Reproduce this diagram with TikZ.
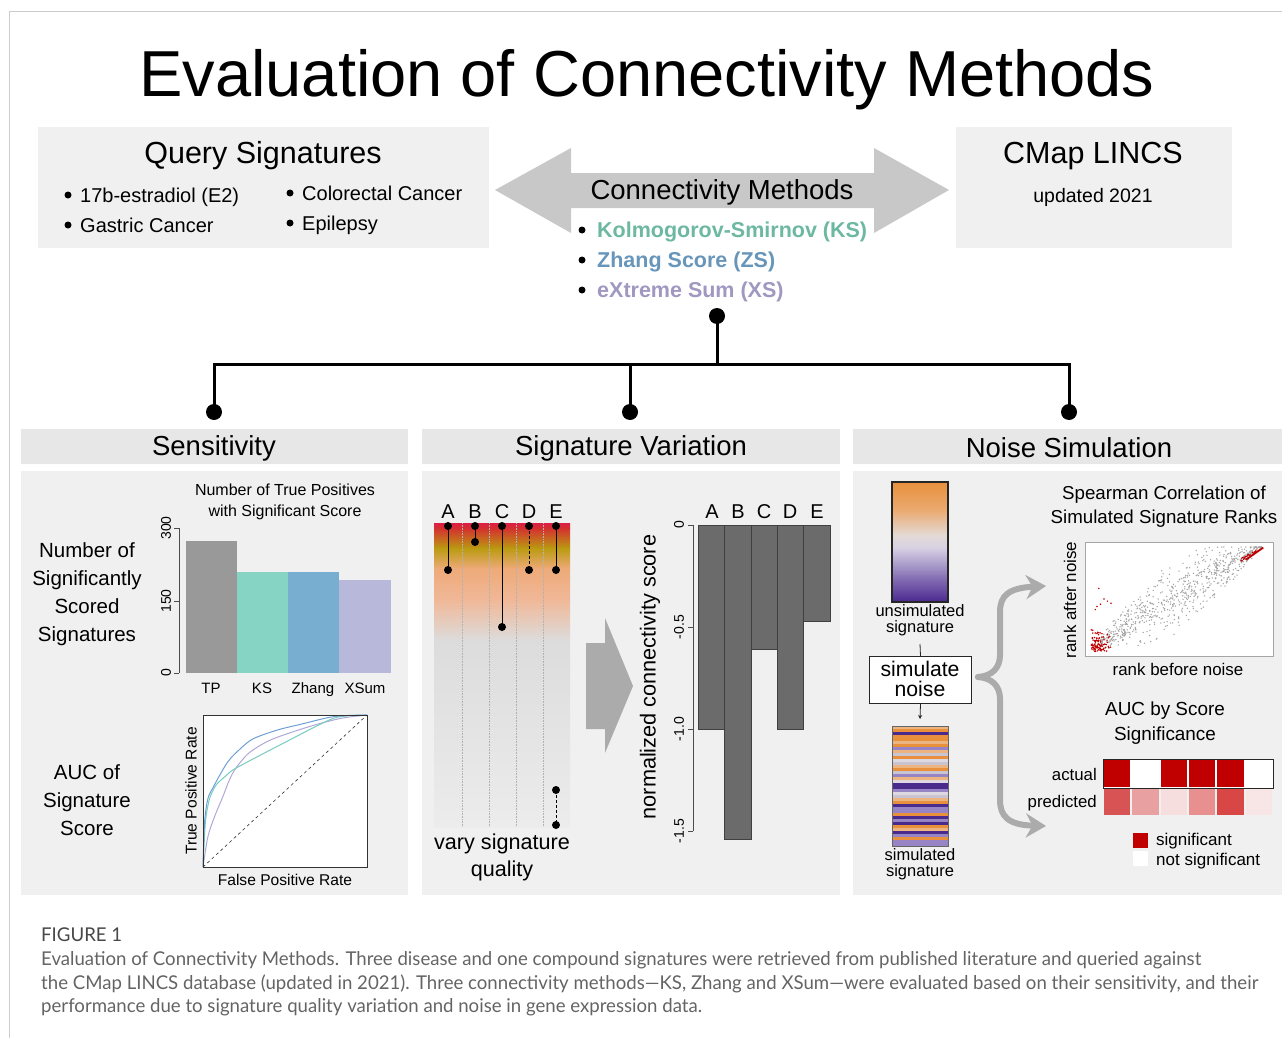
\documentclass[tikz,border=0pt]{standalone}
\usepackage{fontspec}
\setmainfont{Liberation Sans}
\newfontfamily\capfont[FakeStretch=0.98]{Lato}
\usetikzlibrary{arrows.meta}
\definecolor{panelbg}{RGB}{240,240,240}
\definecolor{headbg}{RGB}{231,231,231}
\definecolor{arrowgray}{RGB}{200,200,200}
\definecolor{ksc}{RGB}{108,184,160}
\definecolor{zsc}{RGB}{104,150,186}
\definecolor{xsc}{RGB}{160,152,192}
\definecolor{barTP}{RGB}{153,153,153}
\definecolor{barKS}{RGB}{134,212,196}
\definecolor{barZS}{RGB}{120,174,208}
\definecolor{barXS}{RGB}{184,184,218}
\definecolor{rocB}{RGB}{110,160,214}
\definecolor{rocK}{RGB}{120,204,188}
\definecolor{rocX}{RGB}{176,168,216}
\definecolor{sigred}{RGB}{192,0,0}
\definecolor{sO}{RGB}{232,144,60}
\definecolor{sT}{RGB}{236,180,128}
\definecolor{sP}{RGB}{74,42,140}
\definecolor{sL}{RGB}{150,132,196}
\definecolor{sG}{RGB}{200,196,210}
\definecolor{sW}{RGB}{222,216,226}
\definecolor{capgray}{RGB}{100,100,100}
\newcommand\fsz[2]{\fontsize{#1pt}{#2pt}\selectfont}
\begin{document}
\begin{tikzpicture}[x=1pt,y=-1pt,
  txt/.style={inner sep=0pt,anchor=base},
  panel/.style={fill=panelbg,draw=none},
  headbox/.style={fill=headbg,draw=none},
  tree/.style={line width=3pt,black},
  treedot/.style={circle,fill=black,inner sep=0pt,minimum size=16pt},
  bullet/.style={circle,fill=black,inner sep=0pt,minimum size=7pt},
  ax/.style={line width=0.6pt,black!70},
  ylab/.style={inner sep=0pt,rotate=90,anchor=center},
  lolli/.style={line width=1pt,black},
  ldot/.style={circle,fill=black,inner sep=0pt,minimum size=8pt},
  brace/.style={line width=6pt,black!33,-{Stealth[length=20pt,width=24pt]}},
]
\useasboundingbox (0,0) rectangle (1282,1038);
% frame
\draw[black!20,line width=1pt] (9,1038) -- (9,12) -- (1282,12);

% title
\node[txt,font=\fsz{65}{70}] (title) at (647,97) {Evaluation of Connectivity Methods};

% query signatures
\node[panel,minimum width=451pt,minimum height=121pt,anchor=north west,inner sep=0pt] (qbox) at (38,127) {};
\node[txt,font=\fsz{30.5}{34}] (qtitle) at (263,164) {Query Signatures};
\node[bullet] (qb1) at (68,195) {};
\node[txt,anchor=base west,font=\fsz{20}{24}] (q1) at (80,202) {17b-estradiol (E2)};
\node[bullet] (qb2) at (68,225) {};
\node[txt,anchor=base west,font=\fsz{20}{24}] (q2) at (80,232) {Gastric Cancer};
\node[bullet] (qb3) at (290,193) {};
\node[txt,anchor=base west,font=\fsz{20}{24}] (q3) at (302,200) {Colorectal Cancer};
\node[bullet] (qb4) at (290,223) {};
\node[txt,anchor=base west,font=\fsz{20}{24}] (q4) at (302,230) {Epilepsy};

% CMap box
\node[panel,minimum width=276pt,minimum height=121pt,anchor=north west,inner sep=0pt] (cbox) at (956,127) {};
\node[txt,font=\fsz{30.5}{34}] (ctitle) at (1093,164) {CMap LINCS};
\node[txt,font=\fsz{19.5}{23}] (csub) at (1093,202) {updated 2021};

% double arrow
\fill[arrowgray] (495,190) -- (571,148) -- (571,173) -- (874,173) -- (874,148) -- (949,190)
  -- (874,233) -- (874,208) -- (571,208) -- (571,233) -- cycle;
\node[txt,font=\fsz{27.5}{32}] (cmtitle) at (722,199) {Connectivity Methods};
\node[bullet] (kb1) at (582,230) {};
\node[txt,anchor=base west,font=\fsz{21.5}{25}\bfseries,text=ksc] (ks) at (597,237) {Kolmogorov-Smirnov (KS)};
\node[bullet] (kb2) at (582,260) {};
\node[txt,anchor=base west,font=\fsz{21.5}{25}\bfseries,text=zsc] (zs) at (597,267) {Zhang Score (ZS)};
\node[bullet] (kb3) at (582,290) {};
\node[txt,anchor=base west,font=\fsz{21.5}{25}\bfseries,text=xsc] (xs) at (597,297) {eXtreme Sum (XS)};

% tree
\node[treedot] (cmdot) at (717,316) {};
\coordinate (hub) at (717,364);
\node[treedot] (dotS) at (214,412) {};
\node[treedot] (dotV) at (630,412) {};
\node[treedot] (dotN) at (1069,412) {};
\draw[tree] (cmdot.center) -- (hub);
\draw[tree] (dotS.center) -- (dotS.center |- hub) -- (dotN.center |- hub) -- (dotN.center);
\draw[tree] (dotV.center) -- (dotV.center |- hub);

% panel headers and bodies
\node[headbox,minimum width=387pt,minimum height=35pt,anchor=north west,inner sep=0pt] (hS) at (21,429) {};
\node[headbox,minimum width=418pt,minimum height=35pt,anchor=north west,inner sep=0pt] (hV) at (422,429) {};
\node[headbox,minimum width=429pt,minimum height=35pt,anchor=north west,inner sep=0pt] (hN) at (853,429) {};
\node[txt,font=\fsz{27.5}{32}] (tS) at (214,455) {Sensitivity};
\node[txt,font=\fsz{27.5}{32}] (tV) at (631,455) {Signature Variation};
\node[txt,font=\fsz{27.5}{32}] (tN) at (1069,457) {Noise Simulation};
\node[panel,minimum width=387pt,minimum height=424pt,anchor=north west,inner sep=0pt] (bS) at (21,471) {};
\node[panel,minimum width=418pt,minimum height=424pt,anchor=north west,inner sep=0pt] (bV) at (422,471) {};
\node[panel,minimum width=429pt,minimum height=424pt,anchor=north west,inner sep=0pt] (bN) at (853,471) {};

% ---------- Sensitivity ----------
\node[txt,font=\fsz{20.5}{28},align=center,anchor=north] (nsig) at (87,542) {Number of\\Significantly\\Scored\\Signatures};
\node[txt,font=\fsz{20.5}{28},align=center,anchor=north] (aucsig) at (87,764) {AUC of\\Signature\\Score};
\node[txt,font=\fsz{16}{21},align=center,anchor=north] (bartitle) at (285,484) {Number of True Positives\\with Significant Score};
% bars
\fill[barTP] (186,541) rectangle (237,673);
\fill[barKS] (237,572) rectangle (288,673);
\fill[barZS] (288,572) rectangle (339,673);
\fill[barXS] (339,580) rectangle (391,673);
\draw[ax] (179,528) -- (179,673);
\foreach \yy/\lab in {528/300,601/150,673/0}{
  \draw[ax] (179,\yy) -- (174,\yy);
  \node[ylab,font=\fsz{14}{16}] at (166,\yy) {\lab};
}
\node[txt,font=\fsz{15}{18}] (lTP) at (211,693) {TP};
\node[txt,font=\fsz{15}{18}] (lKS) at (262,693) {KS};
\node[txt,font=\fsz{15}{18}] (lZS) at (313,693) {Zhang};
\node[txt,font=\fsz{15}{18}] (lXS) at (365,693) {XSum};
% ROC
\fill[white] (203,715) rectangle (367,867);
\begin{scope}[shift={(203,867)},x=164pt,y=152pt]
  \draw[dashed,line width=0.6pt,black!80] (0,0) -- (1,1);
  \draw[rocX,line width=1pt] plot[smooth,tension=0.5] coordinates {(0,0) (0.03,0.2) (0.07,0.33) (0.12,0.46) (0.16,0.57) (0.2,0.65) (0.28,0.75) (0.4,0.83) (0.55,0.89) (0.7,0.94) (0.85,0.98) (1,1)};
  \draw[rocK,line width=1pt] plot[smooth,tension=0.4] coordinates {(0,0) (0.015,0.3) (0.04,0.45) (0.08,0.54) (0.14,0.6) (0.2,0.65) (0.5,0.82) (0.8,0.98) (1,1)};
  \draw[rocB,line width=1pt] plot[smooth,tension=0.5] coordinates {(0,0) (0.01,0.3) (0.03,0.45) (0.06,0.52) (0.1,0.6) (0.15,0.69) (0.2,0.75) (0.3,0.84) (0.45,0.9) (0.6,0.94) (0.8,0.99) (1,1)};
\end{scope}
\draw[line width=0.8pt,black!80] (203,715) rectangle (367,867);
\node[ylab,font=\fsz{15.6}{18}] (tpr) at (191,791) {True Positive Rate};
\node[txt,font=\fsz{15.6}{18}] (fpr) at (285,885) {False Positive Rate};

% ---------- Signature variation ----------
\shade[top color={rgb,255:red,220;green,30;blue,68},bottom color={rgb,255:red,212;green,48;blue,48}] (434,523) rectangle (570,528.5);
\shade[top color={rgb,255:red,212;green,48;blue,48},bottom color={rgb,255:red,186;green,154;blue,16}] (434,528) rectangle (570,548.5);
\shade[top color={rgb,255:red,186;green,154;blue,16},bottom color={rgb,255:red,238;green,170;blue,120}] (434,548) rectangle (570,568.5);
\shade[top color={rgb,255:red,238;green,170;blue,120},bottom color={rgb,255:red,240;green,184;blue,152}] (434,568) rectangle (570,600.5);
\shade[top color={rgb,255:red,240;green,184;blue,152},bottom color={rgb,255:red,220;green,220;blue,220}] (434,600) rectangle (570,640.5);
\shade[top color={rgb,255:red,220;green,220;blue,220},bottom color={rgb,255:red,236;green,236;blue,236}] (434,640) rectangle (570,827);
\foreach \xx in {462,489,516,543}{
  \draw[black!30,line width=0.6pt,densely dotted] (\xx,523) -- (\xx,827);
}
\foreach \xx/\lab in {448/A,475/B,502/C,529/D,556/E}{
  \node[txt,font=\fsz{20}{24}] at (\xx,518) {\lab};
}
\node[ldot] (a1) at (448,526) {}; \node[ldot] (a2) at (448,570) {};
\node[ldot] (b1) at (475,526) {}; \node[ldot] (b2) at (475,542) {};
\node[ldot] (c1) at (502,526) {}; \node[ldot] (c2) at (502,627) {};
\node[ldot] (d1) at (529,526) {}; \node[ldot] (d2) at (529,570) {};
\node[ldot] (e1) at (556,526) {}; \node[ldot] (e2) at (556,570) {};
\node[ldot] (e3) at (556,790) {}; \node[ldot] (e4) at (556,825) {};
\draw[lolli] (a1.center) -- (a2.center);
\draw[lolli] (b1.center) -- (b2.center);
\draw[lolli] (c1.center) -- (c2.center);
\draw[lolli,dashed,dash pattern=on 3pt off 2pt] (d1.center) -- (d2.center);
\draw[lolli] (e1.center) -- (e2.center);
\draw[lolli,dashed,dash pattern=on 3pt off 2pt] (e3.center) -- (e4.center);
\node[txt,font=\fsz{21.6}{27},align=center,anchor=north] (vary) at (502,834) {vary signature\\quality};
% big arrow
\fill[black!33] (586,643) -- (605,643) -- (605,618) -- (633,686) -- (605,753) -- (605,729) -- (586,729) -- cycle;
% bar chart
\foreach \xa/\xb/\yb in {698/724/729,724/751/839,751/777/649,777/803/729,803/830/621}{
  \filldraw[fill=black!58,draw=black!75,line width=0.6pt] (\xa,525) rectangle (\xb,\yb);
}
\draw[ax] (693,525) -- (693,831);
\foreach \yy/\lab in {525/0,627/-0.5,729/-1.0,831/-1.5}{
  \draw[ax] (693,\yy) -- (688,\yy);
  \node[ylab,font=\fsz{14}{16}] at (679,\yy) {\lab};
}
\foreach \xx/\lab in {712/A,738/B,764/C,790/D,817/E}{
  \node[txt,font=\fsz{20}{24}] at (\xx,518) {\lab};
}
\node[ylab,font=\fsz{21.7}{25}] (ncs) at (650,677) {normalized connectivity score};

% ---------- Noise simulation ----------
\shade[top color=sO,bottom color={rgb,255:red,234;green,170;blue,112}] (892,482) rectangle (948,510.5);
\shade[top color={rgb,255:red,234;green,170;blue,112},bottom color={rgb,255:red,228;green,218;blue,214}] (892,510) rectangle (948,535.5);
\shade[top color={rgb,255:red,228;green,218;blue,214},bottom color={rgb,255:red,214;green,208;blue,228}] (892,535) rectangle (948,548.5);
\shade[top color={rgb,255:red,214;green,208;blue,228},bottom color={rgb,255:red,140;green,120;blue,184}] (892,548) rectangle (948,575.5);
\shade[top color={rgb,255:red,140;green,120;blue,184},bottom color={rgb,255:red,74;green,40;blue,144}] (892,575) rectangle (948,602);
\draw[line width=1.2pt,black!85] (892,482) rectangle (948,602);
\node[txt,font=\fsz{16.5}{16},align=center,anchor=north] (unsim) at (920,604) {unsimulated\\signature};
\node[draw=black!85,line width=1pt,fill=white,minimum width=102pt,minimum height=47pt,inner sep=0pt,anchor=north west] (simbox) at (869,656) {};
\node[txt,font=\fsz{21.2}{20},align=center,anchor=north] (simtxt) at (920,661) {simulate\\noise};
\draw[line width=0.8pt,black!85] (920,644) -- (simbox.north);
\draw[line width=0.8pt,black!85,-{Stealth[length=4pt,width=4pt]}] (simbox.south) -- (920,719);
% stripes
\foreach \c [count=\i from 0] in {sT,sO,sP,sO,sO,sT,sO,sL,sT,sG,sO,sW,sG,sT,sO,sG,sL,sT,sW,sP,sP,sL,sW,sG,sT,sO,sP,sL,sL,sO,sP,sL,sP,sO,sT,sP,sL,sO,sL,sL}{
  \fill[\c] (892,{726+3*\i}) rectangle (948,{729.4+3*\i});
}
\draw[line width=1pt,black!60] (892,726) rectangle (948,846);
\node[txt,font=\fsz{16.5}{16},align=center,anchor=north] (sim) at (920,848) {simulated\\signature};
% brace
\coordinate (btip) at (978,677);
\coordinate (tUp) at (1046,586);
\coordinate (tDn) at (1046,826);
\draw[brace,line cap=round] (btip) .. controls (992,676) and (1000,668) .. (1000,655) -- (1000,612) .. controls (1000,596) and (1008,588) .. (tUp);
\draw[brace,line cap=round] (btip) .. controls (992,678) and (1000,686) .. (1000,699) -- (1000,800) .. controls (1000,816) and (1008,825) .. (tDn);
% scatter
\node[txt,font=\fsz{18.7}{24},align=center,anchor=north] (sptitle) at (1164,486) {Spearman Correlation of\\Simulated Signature Ranks};
\fill[white] (1085,542) rectangle (1273,656);
\begin{scope}
\clip (1086,543) rectangle (1272,655);
\begin{scope}[shift={(1090,652)},x=175pt,y=106pt]
  \pgfmathsetseed{7}
  \foreach \i in {1,...,750}{
    \pgfmathsetmacro\uu{0.06+0.92*rnd}
    \pgfmathsetmacro\vv{\uu+(rnd+rnd-1)*0.36*sin(180*\uu)+0.03}
    \pgfmathsetmacro\vv{max(0.01,min(0.99,\vv))}
    \fill[black!36] (\uu,\vv) circle (0.75pt);
  }
  \foreach \i in {1,...,110}{
    \pgfmathsetmacro\uu{0.005+0.12*rnd*(0.4+0.6*rnd)}
    \pgfmathsetmacro\vv{0.005+0.24*rnd*(0.3+0.7*rnd)}
    \fill[sigred] (\uu,\vv) circle (0.85pt);
  }
  \foreach \uu/\vv in {0.05/0.6,0.04/0.43,0.1/0.48,0.08/0.5,0.06/0.45,0.12/0.46,0.03/0.4}{
    \fill[sigred] (\uu,\vv) circle (0.85pt);
  }
  \draw[sigred,line width=1.8pt] (0.89,0.87) -- (0.99,0.985);
  \foreach \i in {1,...,25}{
    \pgfmathsetmacro\uu{0.86+0.1*rnd}
    \pgfmathsetmacro\vv{\uu-0.01+0.03*rnd}
    \fill[sigred] (\uu,\vv) circle (0.85pt);
  }
\end{scope}
\end{scope}
\draw[line width=0.8pt,black!35] (1085,542) rectangle (1273,656);
\node[ylab,font=\fsz{16.9}{20}] (ran) at (1070,600) {rank after noise};
\node[txt,font=\fsz{16.9}{20}] (rbn) at (1178,675) {rank before noise};
% AUC heatmap
\node[txt,font=\fsz{18.9}{25},align=center,anchor=north] (auct) at (1165,702) {AUC by Score\\Significance};
\node[txt,anchor=base east,font=\fsz{16.8}{20}] (lact) at (1097,780) {actual};
\node[txt,anchor=base east,font=\fsz{16.8}{20}] (lpred) at (1097,807) {predicted};
\fill[white] (1103,759) rectangle (1273,788);
\foreach \c [count=\i from 0] in {sigred,white,sigred,sigred,sigred,white}{
  \fill[\c] ({1103+28.33*\i+1},760) rectangle ({1103+28.33*(\i+1)-1},787);
}
\foreach \c [count=\i from 0] in {{rgb,255:red,216;green,84;blue,84},{rgb,255:red,232;green,160;blue,160},{rgb,255:red,246;green,222;blue,222},{rgb,255:red,232;green,144;blue,144},{rgb,255:red,216;green,70;blue,70},{rgb,255:red,248;green,230;blue,230}}{
  \fill[color=\c] ({1103+28.33*\i+1},789) rectangle ({1103+28.33*(\i+1)-1},815);
}
\draw[line width=1pt,black!85] (1103,759) rectangle (1273,788);
\fill[sigred] (1133,833) rectangle (1148,848);
\fill[white] (1133,851) rectangle (1148,866);
\node[txt,anchor=base west,font=\fsz{17}{20}] (lsig) at (1156,845) {significant};
\node[txt,anchor=base west,font=\fsz{17}{20}] (lnsig) at (1156,865) {not significant};

% ---------- caption ----------
\node[txt,anchor=base west,font=\capfont\fsz{19}{22},text=black!72] (fig) at (41,941) {FIGURE 1};
\node[txt,anchor=base west,font=\capfont\fsz{19}{22},text=capgray] (cap1) at (41,965) {Evaluation of Connectivity Methods. Three disease and one compound signatures were retrieved from published literature and queried against};
\node[txt,anchor=base west,font=\capfont\fsz{19}{22},text=capgray] (cap2) at (41,989) {the CMap LINCS database (updated in 2021). Three connectivity methods{\textemdash}KS, Zhang and XSum{\textemdash}were evaluated based on their sensitivity, and their};
\node[txt,anchor=base west,font=\capfont\fsz{19}{22},text=capgray] (cap3) at (41,1012) {performance due to signature quality variation and noise in gene expression data.};
\end{tikzpicture}
\end{document}
